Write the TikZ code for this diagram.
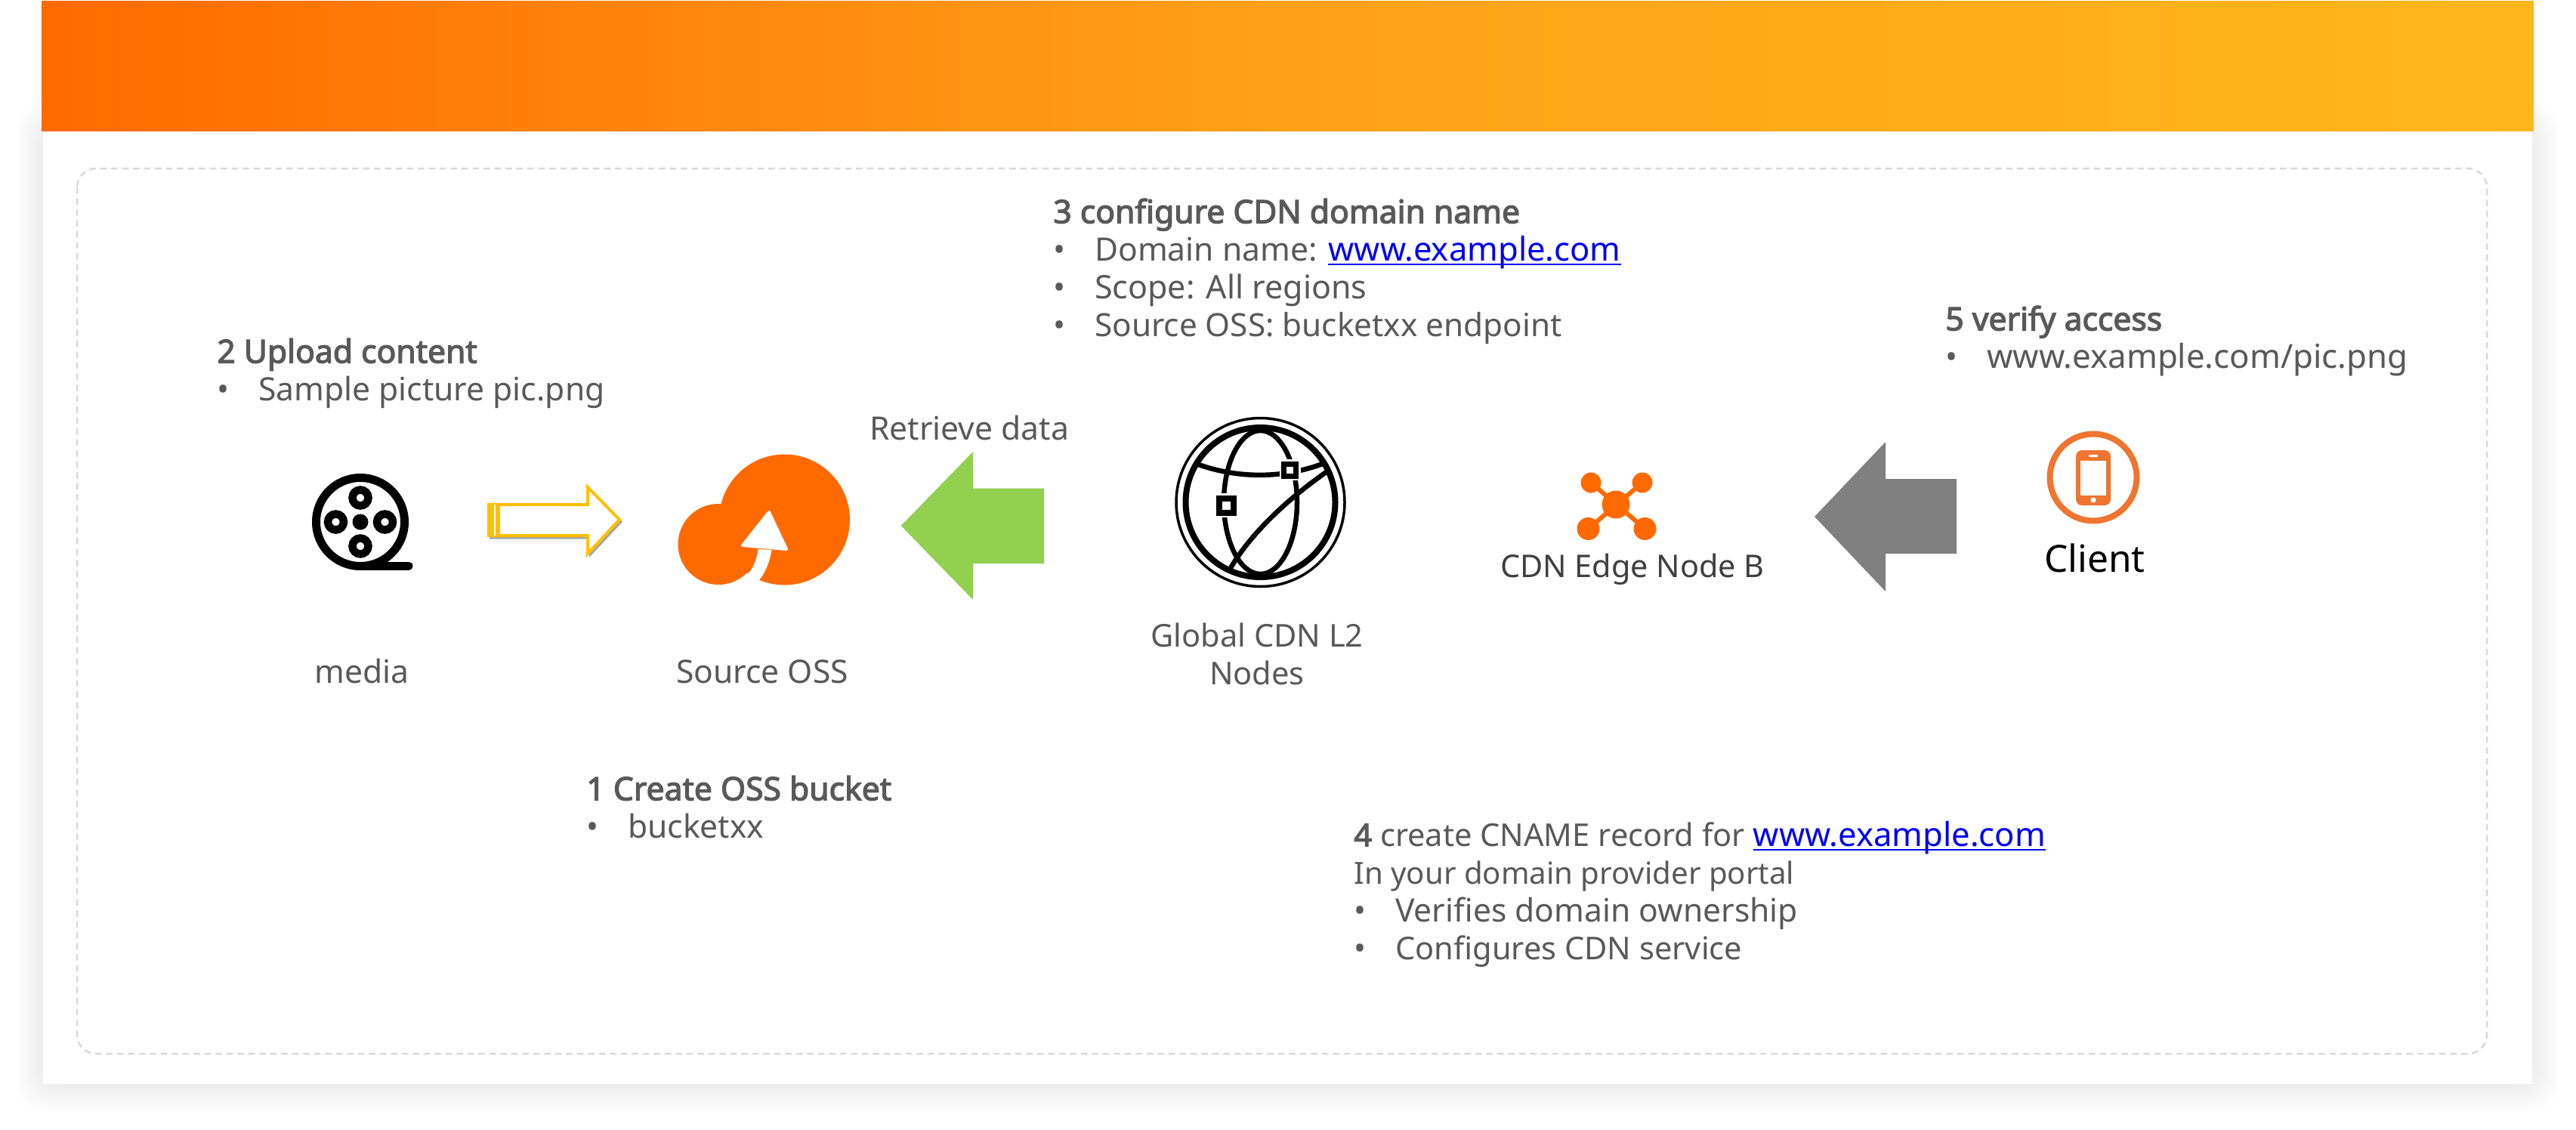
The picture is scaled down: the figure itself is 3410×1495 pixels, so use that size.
\documentclass[tikz,border=0pt]{standalone}
\usepackage{fontspec}
\setmainfont{Noto Sans}[AutoFakeBold=3]
\definecolor{txtgrey}{HTML}{595959}
\definecolor{ossorange}{HTML}{FF6A00}
\definecolor{barmid}{HTML}{FFA118}
\definecolor{barend}{HTML}{FFB71B}
\definecolor{phoneorange}{HTML}{EF7530}
\definecolor{arrowgold}{HTML}{FFC000}
\definecolor{arrowgreen}{HTML}{92D050}
\definecolor{arrowgrey}{HTML}{808080}
\definecolor{dashgrey}{HTML}{D9D9D9}
\definecolor{linkblue}{HTML}{0000EE}
\newcommand{\bul}{\makebox[27.4pt][l]{•}}
\newcommand{\lnk}[1]{\textcolor{linkblue}{\fontsize{21.8}{25}\selectfont\setbox0\hbox{#1}\rlap{\rule[-3pt]{\wd0}{1.3pt}}\box0}}
\newcommand{\fs}[2]{{\fontsize{#1}{25}\selectfont #2}}
\tikzset{
  px/.style={line width=#1*0.5pt},
  textblock/.style={anchor=north west,align=left,inner sep=0pt,text=txtgrey,font=\fontsize{21.3}{25}\selectfont},
  caption/.style={anchor=center,align=center,inner sep=0pt,text=txtgrey,font=\fontsize{21.3}{25}\selectfont},
  filmline/.style={draw=black,px=11},
  globeline/.style={draw=black,px=6.5},
}
\begin{document}
\begin{tikzpicture}[x=0.5pt,y=-0.5pt]
\useasboundingbox (0,0) rectangle (3410,1495);
\fill[white] (0,0) rectangle (3410,1495);
% soft shadow
\foreach \i in {0,...,17}{
  \pgfmathsetmacro{\e}{36-2*\i}
  \fill[black,opacity=0.0045,rounded corners=18pt] (57-\e,170-\e) rectangle (3352+\e,1436+\e);
}
% page
\fill[white] (57,100) rectangle (3352,1435);
\shade[left color=ossorange,right color=barend,middle color=barmid] (55,1) rectangle (3354,173);
\draw[dashgrey,px=2.5,dash pattern=on 4.25pt off 3pt,rounded corners=12.5pt] (102,223) rectangle (3292,1395);

% media icon
\draw[filmline] (477,691) circle[radius=58.5];
\draw[filmline,line cap=round] (477,749) -- (541,749);
\foreach \cx/\cy in {477/659,444.5/691,509.5/691,477/723}{
  \draw[black,px=10.5] (\cx,\cy) circle[radius=10.5];
}
\fill[black] (477,691) circle[radius=10.5];

% gold arrow
\path[fill=black,opacity=0.35] (648,713.5) -- (780,713.5) -- (780,738) -- (824,691) -- (780,646) -- (780,669) -- (648,669) -- cycle;
\draw[arrowgold,fill=white,px=4,miter limit=10] (647,668) -- (778,668) -- (778,645) -- (820,688) -- (778,733) -- (778,709) -- (647,709) -- cycle;
\fill[arrowgold] (645,666) rectangle (662,711);
\draw[white,px=1.5] (655,668) -- (655,709);

% cloud
\fill[ossorange] (1038.5,688) circle[radius=86.5];
\fill[ossorange] (951,720.5) circle[radius=53.5];
\fill[ossorange] (958,667) rectangle (998,720);
\fill[white] (1003.6,727) .. controls (1001,745) and (995,757) .. (985.7,763) -- (978,778) -- (991,778) -- (1004.7,768.3) .. controls (1014,757) and (1019,743) .. (1021.6,728) -- cycle;
\draw[white,fill=white,px=4,line join=round] (1018,678) -- (983,722) -- (1041,727) -- cycle;

% green arrow
\fill[arrowgreen] (1192.7,696) -- (1288,598) -- (1288,646.7) -- (1382,646.7) -- (1382,746) -- (1288,746) -- (1288,794) -- cycle;

% globe
\draw[black,px=3.5] (1668.5,665) circle[radius=111.5];
\draw[black,px=8] (1668.5,665) circle[radius=99];
\draw[globeline] (1668.5,665) ellipse[x radius=48.5,y radius=95];
\draw[globeline] (1583.5,614) .. controls (1638.5,634) and (1698.5,634) .. (1753.5,613);
\draw[globeline] (1755.5,625) .. controls (1698.5,665) and (1653.5,710) .. (1629,752);
\fill[white] (1693.5,608) rectangle (1721.5,636);
\fill[white] (1607.5,653) rectangle (1639.5,685);
\draw[black,px=7] (1699.5,614) rectangle (1715.5,630);
\draw[black,px=8] (1614,659.5) rectangle (1633,678.5);

% edge node icon
\draw[ossorange,px=6] (2106,639) -- (2177.5,700) (2174,639) -- (2102.5,700);
\fill[ossorange] (2139,668) circle[radius=18.5];
\fill[ossorange] (2106,639) circle[radius=13.5];
\fill[ossorange] (2174,639) circle[radius=13.5];
\fill[ossorange] (2102.5,700) circle[radius=15];
\fill[ossorange] (2177.5,700) circle[radius=15];

% grey arrow
\fill[arrowgrey] (2402,684) -- (2496,585) -- (2496,634) -- (2590,634) -- (2590,733) -- (2496,733) -- (2496,783) -- cycle;

% phone icon
\draw[phoneorange,px=8] (2771,632) circle[radius=57.5];
\fill[phoneorange,rounded corners=4pt] (2748,596) rectangle (2794,669);
\fill[white] (2754,610) rectangle (2788,656);
\fill[white,rounded corners=0.5pt] (2765,602) rectangle (2777,605);
\fill[white] (2771,662) circle[radius=3.6];

% texts
\node[textblock] (stepthree) at (1394,260) {\strut\textbf{3 configure CDN domain name}\\\bul Domain name: \lnk{www.example.com}\\\bul \fs{21.5}{Scope: All regions}\\\bul \fs{21.15}{Source OSS: bucketxx endpoint}};
\node[textblock] (steptwo) at (287,445) {\strut\textbf{2 Upload content}\\\bul Sample picture pic.png};
\node[textblock] (stepfive) at (2575,402) {\strut\textbf{5 verify access}\\\bul \fs{21.9}{www.example.com/pic.png}};
\node[textblock] (stepone) at (776,1024) {\strut\textbf{1 Create OSS bucket}\\\bul bucketxx};
\node[textblock] (stepfour) at (1792,1085) {\strut\fs{20.8}{\textbf{4} create CNAME record for }\lnk{www.example.com}\\\fs{20.1}{In your domain provider portal}\\\bul Verifies domain ownership\\\bul \fs{20.8}{Configures CDN service}};
\node[caption] (retrieve) at (1283,567) {Retrieve data};
\node[caption] (media) at (479,889) {media};
\node[caption] (source) at (1009,889) {Source OSS};
\node[caption,font=\fontsize{20.8}{25}\selectfont] (globalcdn) at (1664,866) {Global CDN L2\\Nodes};
\node[caption,text=black!75,font=\fontsize{20.7}{25}\selectfont] (edge) at (2161,754) {CDN Edge Node B};
\node[caption,text=black,font=\fontsize{24.8}{28}\selectfont] (client) at (2773,739) {Client};
\end{tikzpicture}
\end{document}
